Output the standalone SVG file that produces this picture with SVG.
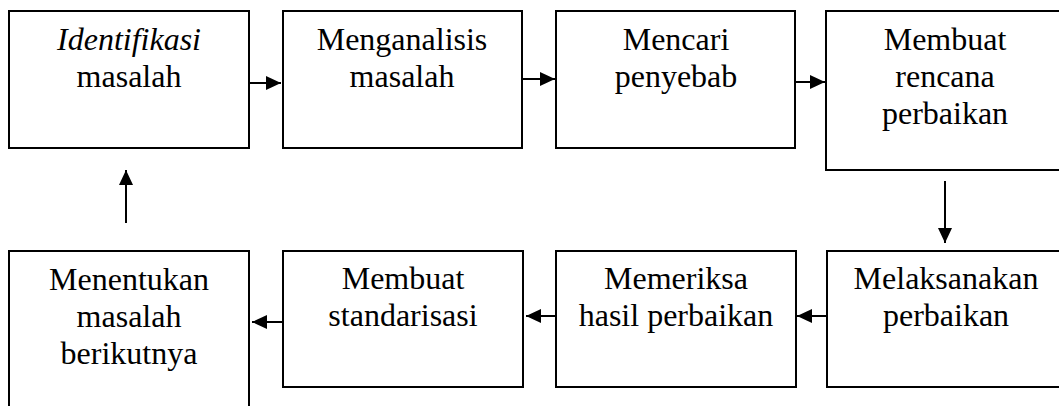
<svg xmlns="http://www.w3.org/2000/svg" width="1059" height="406" viewBox="0 0 1059 406">
<style>
.box{fill:#fff;stroke:#000;stroke-width:2}
.t{font-family:"Liberation Serif","Times New Roman",serif;font-size:32px;fill:#000;text-anchor:middle}
.c{stroke:#000;stroke-width:2;fill:none;marker-end:url(#ah)}
</style>
<defs>
<marker id="ah" markerUnits="userSpaceOnUse" markerWidth="16" markerHeight="14" refX="15" refY="7" orient="auto">
<path d="M0,0 L15,7 L0,14 Z" fill="#000"/>
</marker>
</defs>
<rect width="1059" height="406" fill="#fff"/>
<g id="n1"><rect class="box" x="9" y="11" width="240" height="137"/><text class="t" x="129" y="50"><tspan font-style="italic">Identifikasi</tspan><tspan x="129" dy="37">masalah</tspan></text></g>
<g id="n2"><rect class="box" x="283" y="11" width="239" height="137"/><text class="t" x="402" y="50">Menganalisis<tspan x="402" dy="37">masalah</tspan></text></g>
<g id="n3"><rect class="box" x="556" y="11" width="239" height="137"/><text class="t" x="676" y="50">Mencari<tspan x="676" dy="37">penyebab</tspan></text></g>
<g id="n4"><rect class="box" x="826" y="11" width="240" height="159"/><text class="t" x="945" y="50">Membuat<tspan x="945" dy="37">rencana</tspan><tspan x="945" dy="37">perbaikan</tspan></text></g>
<g id="n5"><rect class="box" x="827" y="251" width="240" height="136"/><text class="t" x="946" y="289">Melaksanakan<tspan x="946" dy="37">perbaikan</tspan></text></g>
<g id="n6"><rect class="box" x="556" y="251" width="240" height="136"/><text class="t" x="676" y="289">Memeriksa<tspan x="676" dy="37">hasil perbaikan</tspan></text></g>
<g id="n7"><rect class="box" x="283" y="251" width="240" height="136"/><text class="t" x="403" y="289">Membuat<tspan x="403" dy="37">standarisasi</tspan></text></g>
<g id="n8"><rect class="box" x="9" y="251" width="240" height="180"/><text class="t" x="129" y="290">Menentukan<tspan x="129" dy="37">masalah</tspan><tspan x="129" dy="37">berikutnya</tspan></text></g>
<g id="connectors">
<line class="c" x1="249" y1="83" x2="281" y2="83"/>
<line class="c" x1="522" y1="79" x2="555" y2="79"/>
<line class="c" x1="795" y1="82" x2="825" y2="82"/>
<line class="c" x1="945" y1="181" x2="945" y2="243"/>
<line class="c" x1="827" y1="316" x2="797" y2="316"/>
<line class="c" x1="556" y1="316" x2="526" y2="316"/>
<line class="c" x1="283" y1="322" x2="252" y2="322"/>
<line class="c" x1="126" y1="223" x2="126" y2="170"/>
</g>
</svg>
